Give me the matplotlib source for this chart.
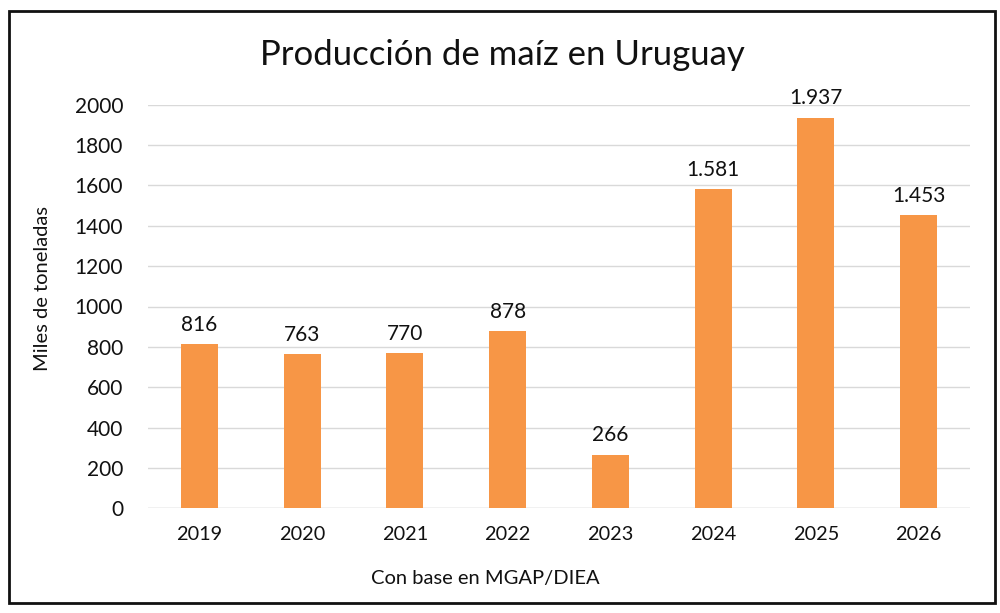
import matplotlib.pyplot as plt
from matplotlib.patches import Rectangle

years = ["2019", "2020", "2021", "2022", "2023", "2024", "2025", "2026"]
produccion = [816, 763, 770, 878, 266, 1581, 1937, 1453]
etiquetas = ["816", "763", "770", "878", "266", "1.581", "1.937", "1.453"]
yticks = [0, 200, 400, 600, 800, 1000, 1200, 1400, 1600, 1800, 2000]

plt.rcParams['font.family'] = ['Lato', 'DejaVu Sans']

fig = plt.figure(figsize=(10, 6.13), dpi=100)
ax = fig.add_axes([0.148, 0.171, 0.822, 0.658])

x = range(len(years))
bars = ax.bar(x, produccion, width=0.36, color='#F79646', zorder=3)
for b, lab in zip(bars, etiquetas):
    ax.text(b.get_x() + b.get_width() / 2, b.get_height() + 45, lab,
            ha='center', va='bottom', fontsize=15, color='#111111')

ax.set_xlim(-0.5, len(years) - 0.5)
ax.set_ylim(0, 2000)
ax.set_yticks(yticks)
ax.set_xticks(list(x))
ax.set_xticklabels(years)
ax.yaxis.grid(True, color='#D9D9D9', linewidth=1, zorder=0)
for s in ax.spines.values():
    s.set_visible(False)
ax.axhline(0, color='#D9D9D9', linewidth=1, zorder=2)
ax.tick_params(axis='y', length=0, pad=18, labelsize=15, labelcolor='#111111')
ax.tick_params(axis='x', length=0, pad=13, labelsize=14.3, labelcolor='#111111')

fig.text(0.502, 0.91, "Producción de maíz en Uruguay", ha='center', va='center',
         fontsize=25, color='#111111')
fig.text(0.043, 0.53, "Miles de toneladas", rotation=90, ha='center', va='center',
         fontsize=14.5, color='#111111')
fig.text(0.485, 0.057, "Con base en MGAP/DIEA", ha='center', va='center',
         fontsize=14.5, color='#111111')

fig.patches.append(Rectangle((0.009, 0.016), 0.986, 0.966, transform=fig.transFigure,
                             fill=False, edgecolor='#111111', linewidth=2))

fig.savefig("out.png", dpi=100)
